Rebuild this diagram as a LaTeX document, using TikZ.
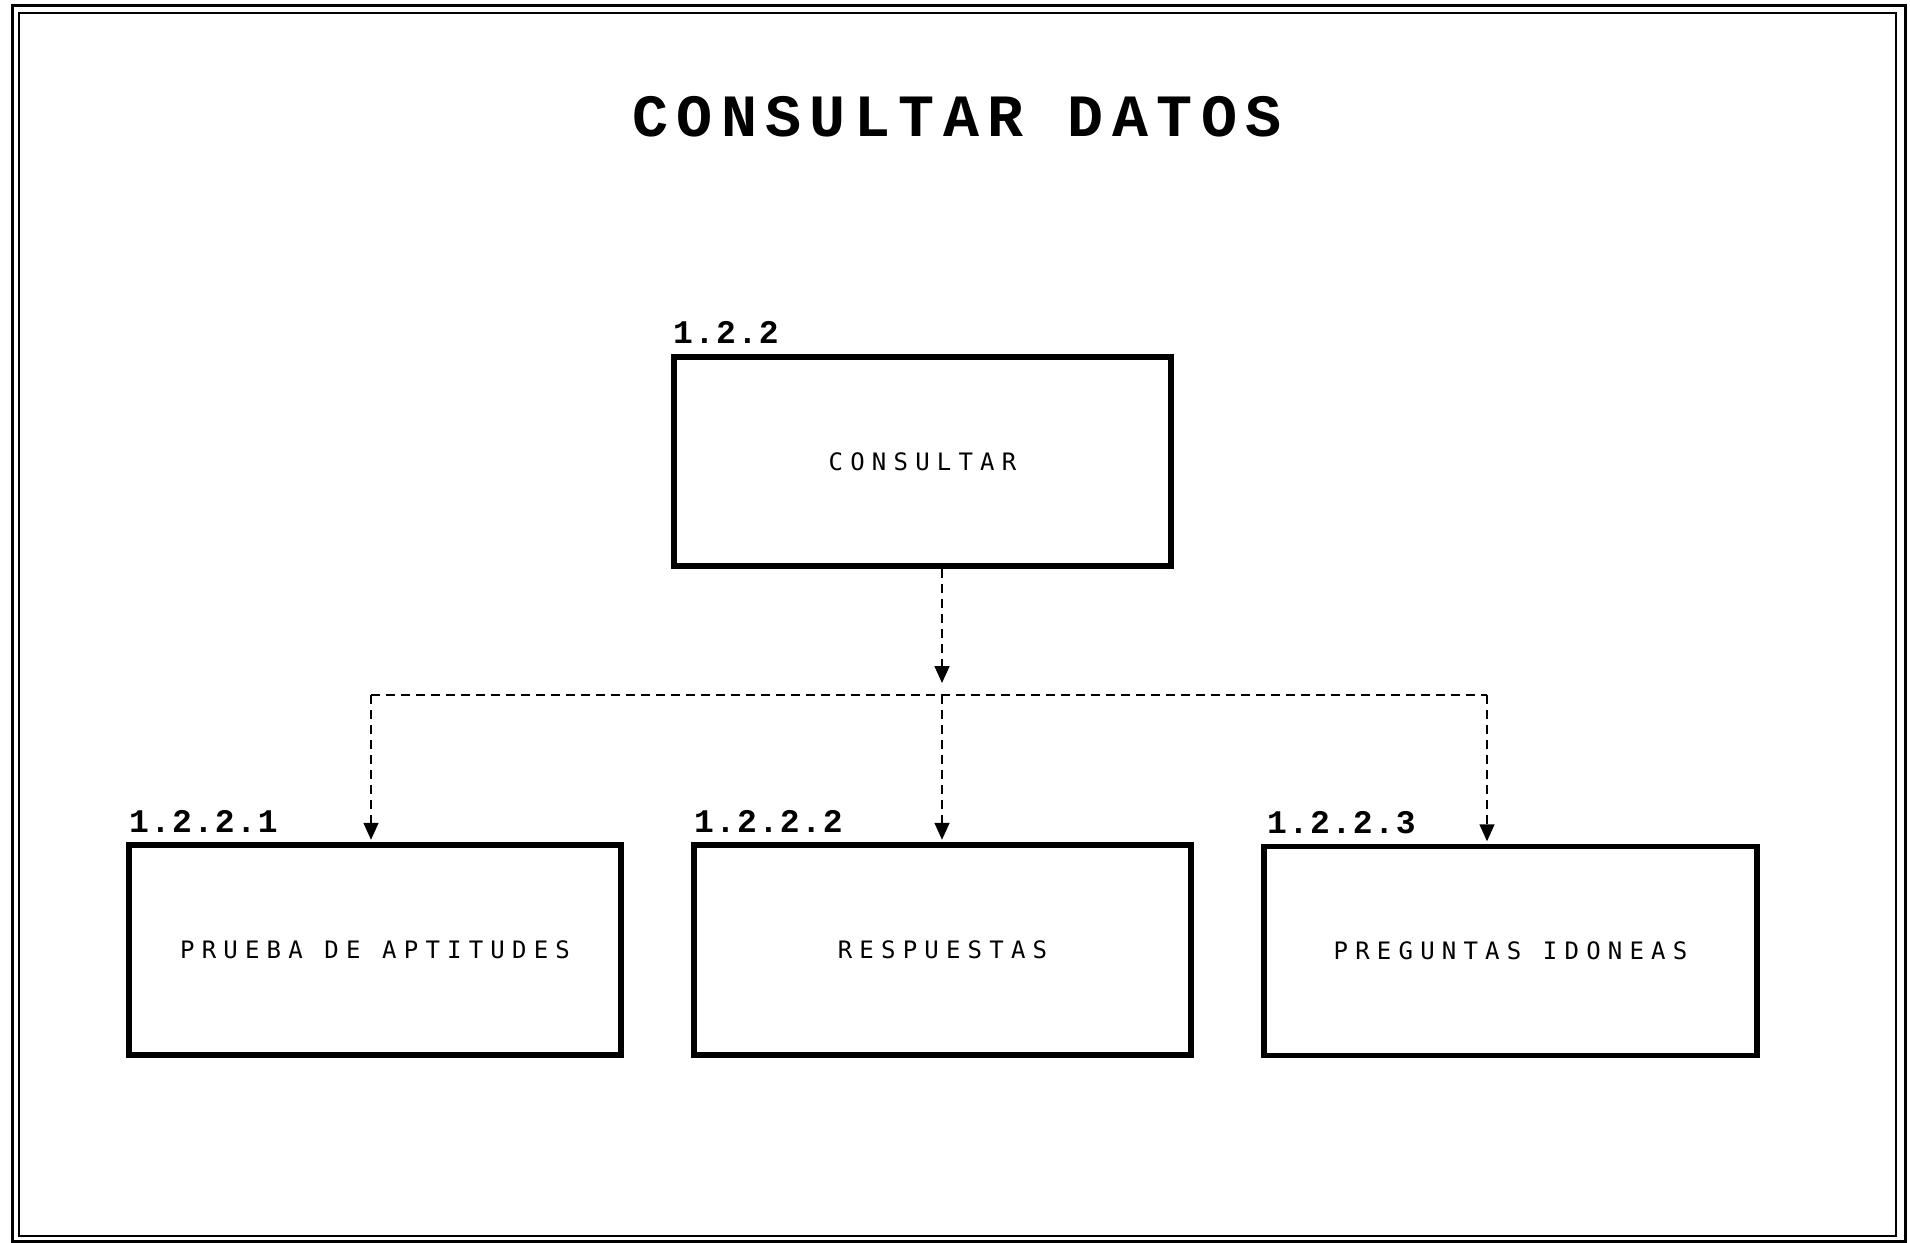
\documentclass[tikz,border=0pt]{standalone}
\usepackage{fontspec}
\usetikzlibrary{arrows.meta}
\newfontfamily\titlefont[LetterSpace=14]{Liberation Mono Bold}
\newfontfamily\numfont[LetterSpace=5]{Liberation Mono Bold}
\newfontfamily\boxfont[LetterSpace=30]{DejaVu Sans Mono}
\begin{document}
\begin{tikzpicture}[x=1pt,y=-1pt,
  procbox/.style={draw, line width=5.5pt, inner sep=0pt,
    font=\boxfont\fontsize{24}{26}\selectfont},
  numlabel/.style={anchor=base west, inner sep=0pt,
    font=\numfont\fontsize{33}{35}\selectfont},
  flow/.style={line width=1.6pt, dash pattern=on 9pt off 6pt},
  tip/.style={-{Triangle[width=15pt,length=17pt]}}]
\useasboundingbox (0,0) rectangle (1910,1242);
\fill[white] (0,0) rectangle (1910,1242);
\draw[line width=3pt] (12,5) rectangle (1905,1241);
\draw[line width=2pt] (19,13) rectangle (1896,1236);

\node[font=\titlefont\fontsize{60}{64}\selectfont] (title) at (957,116.5) {CONSULTAR DATOS};

\node[procbox, minimum width=497pt, minimum height=209pt] (top) at (922.5,461.5) {CONSULTAR};
\node[procbox, minimum width=492pt, minimum height=210pt] (b1) at (375,950) {PRUEBA DE APTITUDES};
\node[procbox, minimum width=497pt, minimum height=210pt] (b2) at (942.5,950) {RESPUESTAS};
\node[procbox, minimum width=493pt, minimum height=209pt] (b3) at (1510.5,951) {PREGUNTAS IDONEAS};

\node[numlabel] (n0) at (673,343) {1.2.2};
\node[numlabel] (n1) at (129,832) {1.2.2.1};
\node[numlabel] (n2) at (694,832) {1.2.2.2};
\node[numlabel] (n3) at (1267,833) {1.2.2.3};

\coordinate (j) at (942,695);
\coordinate (tipc) at (942,683);
\coordinate (jl) at (371,695);
\coordinate (jr) at (1487,695);

\draw[flow, tip] (top.south -| j) -- (tipc);
\draw[flow] (jl) -- (jr);
\draw[flow, tip, shorten >=2.5pt] (jl) -- (jl |- b1.north);
\draw[flow, tip, shorten >=2.5pt] (j) -- (j |- b2.north);
\draw[flow, tip, shorten >=2.5pt] (jr) -- (jr |- b3.north);
\end{tikzpicture}
\end{document}
